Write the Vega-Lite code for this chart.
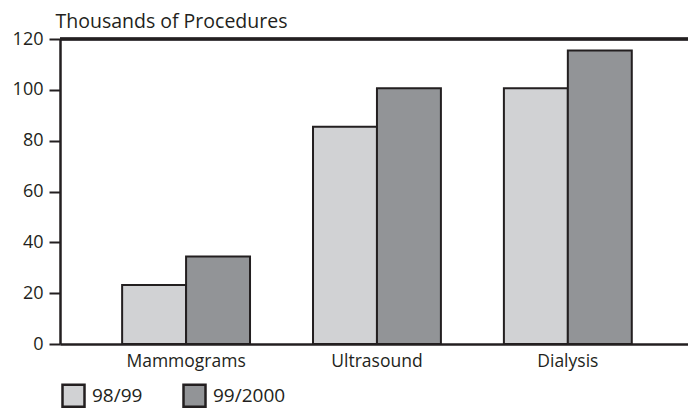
{
  "$schema": "https://vega.github.io/schema/vega-lite/v6.json",
  "width": 628,
  "height": 305,
  "autosize": "none",
  "padding": {"left": 60, "top": 39, "right": 0, "bottom": 67},
  "background": "white",
  "config": {
    "view": {"stroke": null},
    "font": "Open Sans",
    "axis": {"labelFont": "Open Sans", "titleFont": "Open Sans", "labelColor": "#231f20", "titleColor": "#231f20"}
  },
  "data": {
    "values": [
      {"procedure": "Mammograms", "year": "98/99", "value": 23.2},
      {"procedure": "Mammograms", "year": "99/2000", "value": 34.4},
      {"procedure": "Ultrasound", "year": "98/99", "value": 85.5},
      {"procedure": "Ultrasound", "year": "99/2000", "value": 100.6},
      {"procedure": "Dialysis", "year": "98/99", "value": 100.6},
      {"procedure": "Dialysis", "year": "99/2000", "value": 115.5}
    ]
  },
  "layer": [
    {
      "mark": {"type": "bar", "stroke": "#231f20", "strokeWidth": 2},
      "encoding": {
        "x": {
          "field": "procedure", "type": "nominal",
          "sort": ["Mammograms", "Ultrasound", "Dialysis"],
          "scale": {"paddingInner": 0.33, "paddingOuter": 0.31, "align": 0.525},
          "axis": {
            "title": null, "labelAngle": 0, "labelFontSize": 17.5, "labelPadding": 8,
            "ticks": false, "domainColor": "#231f20", "domainWidth": 2.5
          }
        },
        "xOffset": {"field": "year", "type": "nominal", "scale": {"paddingInner": 0, "paddingOuter": 0}},
        "y": {
          "field": "value", "type": "quantitative",
          "scale": {"domain": [0, 120], "nice": false},
          "axis": {
            "values": [0, 20, 40, 60, 80, 100, 120],
            "grid": false,
            "title": "Thousands of Procedures",
            "titleAngle": 0, "titleAlign": "left", "titleBaseline": "alphabetic",
            "titleX": -5, "titleY": -12, "titleFontSize": 19.5, "titleFontWeight": "normal",
            "labelFontSize": 18, "labelPadding": 6,
            "tickSize": 11, "tickWidth": 2, "tickColor": "#231f20",
            "domainColor": "#231f20", "domainWidth": 2.5
          }
        },
        "fill": {
          "field": "year", "type": "nominal",
          "scale": {"domain": ["98/99", "99/2000"], "range": ["#d1d2d4", "#929497"]},
          "legend": {
            "title": null, "orient": "none", "direction": "horizontal",
            "legendX": 1, "legendY": 344,
            "symbolType": "square", "symbolSize": 484,
            "symbolStrokeColor": "#231f20", "symbolStrokeWidth": 2.5,
            "symbolOpacity": 1,
            "labelFontSize": 19, "labelFont": "Open Sans", "labelColor": "#231f20",
            "labelOffset": 6, "columnPadding": 35
          }
        }
      }
    },
    {
      "mark": {"type": "rule", "stroke": "#231f20", "strokeWidth": 2.5},
      "encoding": {"y": {"datum": 120}}
    }
  ]
}
